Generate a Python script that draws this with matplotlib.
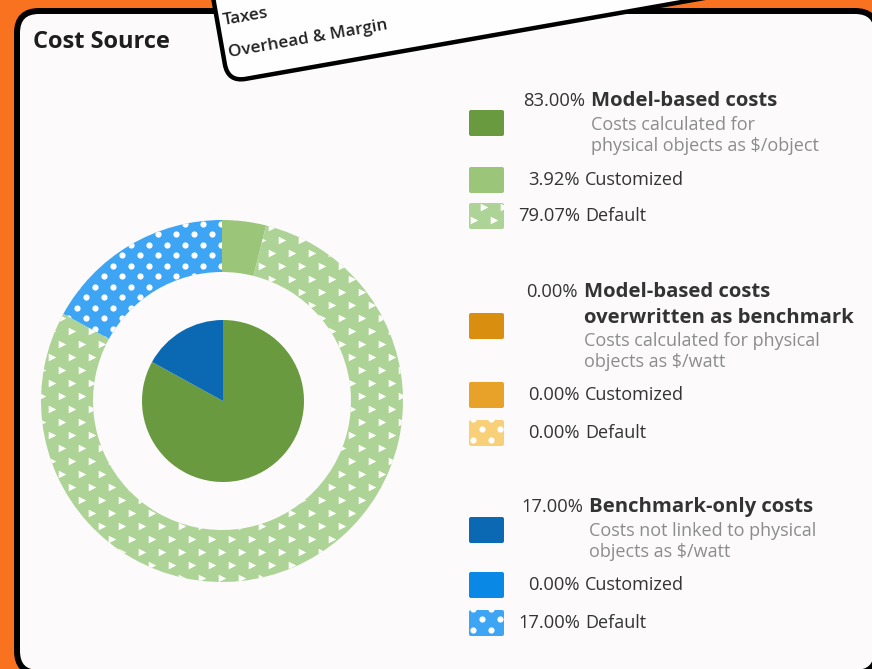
import numpy as np
import matplotlib.pyplot as plt
import matplotlib.transforms as mtransforms
from matplotlib.patches import FancyBboxPatch

plt.rcParams['font.family'] = ['Open Sans', 'DejaVu Sans']

W, H = 872, 669

# cost source breakdown
groups = ['Model-based costs', 'Model-based costs\noverwritten as benchmark', 'Benchmark-only costs']
group_notes = ['Costs calculated for\nphysical objects as $/object',
               'Costs calculated for physical\nobjects as $/watt',
               'Costs not linked to physical\nobjects as $/watt']
group_share = [83.00, 0.00, 17.00]
customized_share = [3.92, 0.00, 0.00]
default_share = [79.07, 0.00, 17.00]
sub_labels = ['Customized', 'Default']
side_labels = ['Taxes', 'Overhead & Margin']

group_colors = ['#6A9A3F', '#D98E10', '#0B68B3']
custom_colors = ['#9BC67A', '#E8A22A', '#0A88E6']
default_colors = ['#ADD496', '#F9D07A', '#3DA5F4']
default_marks = ['>', 'o', 'o']


def py(y):
    # pixel row (from top) -> data y
    return H - y


def lattice(x0, x1, y0, y1, dx, dy):
    pts = []
    row = 0
    y = y0
    while y <= y1:
        off = dx / 2 * (row % 2)
        for x in np.arange(x0 + off, x1, dx):
            pts.append((x, y))
        y += dy
        row += 1
    return np.array(pts)


def fill_pattern(patch, marker, bounds):
    if marker == '>':
        p, size = lattice(*bounds, 20, 13), 30
    else:
        p, size = lattice(*bounds, 18, 10.5), 20
    sc = ax.scatter(p[:, 0], p[:, 1], marker=marker, s=size, c='white',
                    linewidths=0, zorder=patch.get_zorder() + 0.1)
    sc.set_clip_path(patch)


fig = plt.figure(figsize=(W / 100, H / 100), dpi=100)
fig.patch.set_facecolor('#F8721F')
ax = fig.add_axes([0, 0, 1, 1])

# main card
card = FancyBboxPatch((17, -4), 860, 662, boxstyle='round,pad=0,rounding_size=22',
                      fc='#FCFAFB', ec='black', lw=4.3, zorder=1)
ax.add_patch(card)

# tilted card behind the title row
pivot = (228, py(82))
rot = mtransforms.Affine2D().rotate_deg_around(pivot[0], pivot[1], 10)
back = FancyBboxPatch(pivot, 800, 300, boxstyle='round,pad=0,rounding_size=18',
                      fc='#FEFEFE', ec='black', lw=3.2, zorder=5,
                      transform=rot + ax.transData)
ax.add_patch(back)
for i, s in enumerate(side_labels):
    ax.text(pivot[0] + 6, pivot[1] + 57 - 33 * i, s, transform=rot + ax.transData,
            rotation=10, rotation_mode='anchor', fontsize=12.3, fontweight='semibold',
            color='#222222', ha='left', va='baseline', zorder=6)

ax.text(33, py(42), 'Cost Source', fontsize=17, fontweight='bold', color='#1E1E1E',
        ha='left', va='center', zorder=3)

# outer ring: customized / default per group
cx, cy = 222, py(401)
ring_vals, ring_cols = [], []
for c, d, cc, dc in zip(customized_share, default_share, custom_colors, default_colors):
    ring_vals += [c, d]
    ring_cols += [cc, dc]
ring, _ = ax.pie(ring_vals, colors=ring_cols, radius=181, center=(cx, cy), startangle=90,
                 counterclock=False, wedgeprops=dict(width=52, linewidth=0))
for w in ring:
    w.set_zorder(2)
for i, m in enumerate(default_marks):
    fill_pattern(ring[2 * i + 1], m, (cx - 190, cx + 190, cy - 190, cy + 190))

# inner pie: group totals
inner, _ = ax.pie(group_share, colors=group_colors, radius=81, center=(cx + 1, cy),
                  startangle=90, counterclock=False, wedgeprops=dict(linewidth=0))
for w in inner:
    w.set_zorder(2)

# legend
tc, nc = '#333333', '#8C8C8C'
head_y = [101, 292, 507]
head_x = [591, 584, 589]
swatch_y = [123, 326, 530]
note_y = [125, 341, 531]
row_y = [(180, 216), (395, 433), (585, 623)]


def swatch(yc, color, marker=None):
    p = FancyBboxPatch((469, py(yc) - 13), 35, 26, boxstyle='round,pad=0,rounding_size=2',
                       fc=color, ec='none', zorder=2)
    ax.add_patch(p)
    if marker:
        fill_pattern(p, marker, (464, 512, py(yc) - 17, py(yc) + 17))


for g in range(3):
    swatch(swatch_y[g], group_colors[g])
    ax.text(head_x[g] - 6, py(head_y[g]), f'{group_share[g]:.2f}%', fontsize=13.2,
            color=tc, ha='right', va='center', zorder=3)
    for j, line in enumerate(groups[g].split('\n')):
        ax.text(head_x[g], py(head_y[g] + 26 * j), line, fontsize=14.6, fontweight='bold',
                color=tc, ha='left', va='center', zorder=3)
    for j, line in enumerate(group_notes[g].split('\n')):
        ax.text(head_x[g], py(note_y[g] + 21 * j), line, fontsize=13,
                color=nc, ha='left', va='center', zorder=3)
    vals = [customized_share[g], default_share[g]]
    cols = [custom_colors[g], default_colors[g]]
    marks = [None, default_marks[g]]
    for k in range(2):
        y = row_y[g][k]
        swatch(y, cols[k], marks[k])
        ax.text(580, py(y), f'{vals[k]:.2f}%', fontsize=13.2, color=tc,
                ha='right', va='center', zorder=3)
        ax.text(585, py(y), sub_labels[k], fontsize=13, color=tc,
                ha='left', va='center', zorder=3)

ax.set_xlim(0, W)
ax.set_ylim(0, H)
ax.set_aspect('auto')
ax.axis('off')
fig.savefig('out.png', dpi=100, facecolor=fig.get_facecolor())
